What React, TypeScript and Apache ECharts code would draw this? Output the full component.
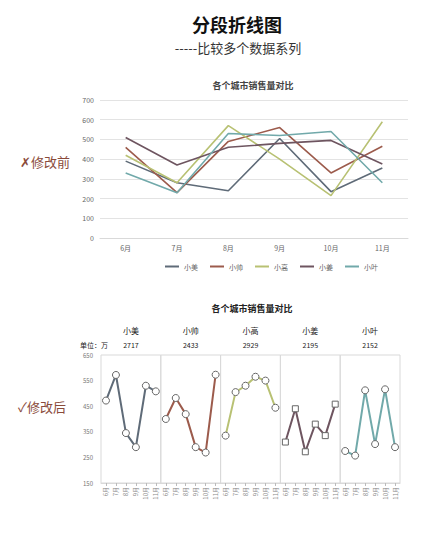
import React, { useEffect, useRef } from 'react'
import * as echarts from 'echarts'

const months = ['6月', '7月', '8月', '9月', '10月', '11月']
const names = ['小美', '小帅', '小高', '小姜', '小叶']
const colors = ['#5f6b78', '#9c5b4c', '#b8c173', '#6e5560', '#71a9aa']

// 修改前：五条线叠在一张图里
const beforeValues = [
  [390, 280, 240, 505, 235, 355],
  [460, 230, 490, 560, 330, 465],
  [420, 280, 570, 400, 215, 590],
  [510, 370, 460, 480, 495, 375],
  [330, 230, 530, 520, 540, 280],
]

// 修改后：每人一段
const afterValues = [
  [472, 572, 345, 290, 530, 508],
  [400, 482, 419, 290, 269, 573],
  [335, 505, 530, 565, 550, 444],
  [310, 440, 272, 380, 335, 458],
  [275, 257, 512, 302, 516, 290],
]
const totals = [2717, 2433, 2929, 2195, 2152]
const markers = ['circle', 'circle', 'circle', 'rect', 'circle']

const beforeTicks = [0, 700, 100]
const afterTickLabels = [150, 250, 350, 450, 550, 650]

const FONT = '"Noto Sans CJK SC", sans-serif'

export default function App() {
  const chartRef = useRef<HTMLDivElement>(null)

  useEffect(() => {
    if (!chartRef.current) return
    const chart = echarts.init(chartRef.current, null, { renderer: 'svg' })

    const panelLeft = 101
    const panelW = 59.8
    const panelTop = 355
    const panelBottom = 539 - 483

    const grids: any[] = [
      { left: 100, right: 18, top: 100, bottom: 301 },
    ]
    const xAxes: any[] = [
      {
        type: 'category',
        gridIndex: 0,
        data: months,
        axisLine: { lineStyle: { color: '#d9d9d9' } },
        axisTick: { show: false },
        axisLabel: { color: '#666', fontSize: 7, fontFamily: FONT, margin: 6 },
      },
    ]
    const yAxes: any[] = [
      {
        type: 'value',
        gridIndex: 0,
        min: beforeTicks[0],
        max: beforeTicks[1],
        interval: beforeTicks[2],
        axisLine: { show: false },
        axisTick: { show: false },
        axisLabel: { color: '#666', fontSize: 7, fontFamily: FONT, margin: 6 },
        splitLine: { lineStyle: { color: '#e3e3e3' } },
      },
    ]
    const series: any[] = names.map((n, i) => ({
      name: n,
      type: 'line',
      xAxisIndex: 0,
      yAxisIndex: 0,
      data: beforeValues[i],
      showSymbol: false,
      lineStyle: { color: colors[i], width: 1.6 },
      itemStyle: { color: colors[i] },
    }))

    names.forEach((n, i) => {
      grids.push({
        show: true,
        borderColor: '#d9d9d9',
        borderWidth: 1,
        left: panelLeft + i * panelW,
        width: panelW,
        top: panelTop,
        bottom: panelBottom,
      })
      xAxes.push({
        type: 'category',
        gridIndex: i + 1,
        data: months,
        axisLine: { lineStyle: { color: '#d9d9d9' } },
        axisTick: { show: true, alignWithLabel: true, length: 3, lineStyle: { color: '#bbb' } },
        axisLabel: { color: '#888', fontSize: 6, fontFamily: FONT, rotate: 90, interval: 0, margin: 4 },
      })
      yAxes.push({
        type: 'value',
        gridIndex: i + 1,
        min: 150,
        max: 650,
        show: i === 0,
        axisLine: { show: false },
        axisTick: { show: false },
        axisLabel: {
          color: '#777',
          fontSize: 6,
          fontFamily: FONT,
          margin: 8,
          customValues: afterTickLabels,
        },
        splitLine: { show: false },
      })
      series.push({
        name: n + '-后',
        type: 'line',
        xAxisIndex: i + 1,
        yAxisIndex: i + 1,
        data: afterValues[i],
        symbol: markers[i],
        symbolSize: markers[i] === 'rect' ? 6 : 7,
        lineStyle: { color: colors[i], width: 2 },
        itemStyle: { color: '#fff', borderColor: '#666', borderWidth: 1 },
      })
    })

    const headerTexts: any[] = []
    names.forEach((n, i) => {
      const cx = panelLeft + i * panelW + panelW / 2
      headerTexts.push({
        type: 'text',
        x: cx,
        y: 330,
        style: { text: n, fontSize: 8, fill: '#222', fontFamily: FONT, align: 'center', verticalAlign: 'middle' },
      })
      headerTexts.push({
        type: 'text',
        x: cx,
        y: 345,
        style: { text: String(totals[i]), fontSize: 7, fill: '#222', fontFamily: FONT, align: 'center', verticalAlign: 'middle' },
      })
    })

    chart.setOption({
      animation: false,
      backgroundColor: '#fff',
      title: [
        {
          text: '分段折线图',
          left: 232,
          top: 10,
          textAlign: 'center',
          textStyle: { fontSize: 18, fontWeight: 'bold', color: '#111', fontFamily: FONT },
        },
        {
          text: '-----比较多个数据系列',
          left: 233,
          top: 36,
          textAlign: 'center',
          textStyle: { fontSize: 13, fontWeight: 'normal', color: '#333', fontFamily: FONT },
        },
        {
          text: '各个城市销售量对比',
          left: 248,
          top: 76,
          textAlign: 'center',
          textStyle: { fontSize: 9, fontWeight: 'bold', color: '#444', fontFamily: FONT },
        },
        {
          text: '各个城市销售量对比',
          left: 247,
          top: 299,
          textAlign: 'center',
          textStyle: { fontSize: 9, fontWeight: 'bold', color: '#222', fontFamily: FONT },
        },
      ],
      legend: {
        data: names,
        left: 160,
        top: 258,
        icon: 'rect',
        itemWidth: 14,
        itemHeight: 2,
        itemGap: 12,
        textStyle: { fontSize: 7, color: '#666', fontFamily: FONT },
      },
      grid: grids,
      xAxis: xAxes,
      yAxis: yAxes,
      series,
      graphic: [
        {
          type: 'text',
          x: 20,
          y: 161,
          style: { text: '✗修改前', fontSize: 13, fill: '#8a4a3a', fontFamily: FONT, verticalAlign: 'middle' },
        },
        {
          type: 'text',
          x: 18,
          y: 406,
          style: { text: '✓修改后', fontSize: 13, fill: '#8a4a3a', fontFamily: FONT, verticalAlign: 'middle' },
        },
        {
          type: 'text',
          x: 80,
          y: 345,
          style: { text: '单位：万', fontSize: 7, fill: '#222', fontFamily: FONT, verticalAlign: 'middle' },
        },
        ...headerTexts,
      ],
    })

    return () => {
      chart.dispose()
    }
  }, [])

  return (
    <div style={{ position: 'fixed', left: 0, top: 0, width: 426, height: 539, background: '#fff' }}>
      <div ref={chartRef} style={{ width: '100%', height: '100%' }} />
    </div>
  )
}
